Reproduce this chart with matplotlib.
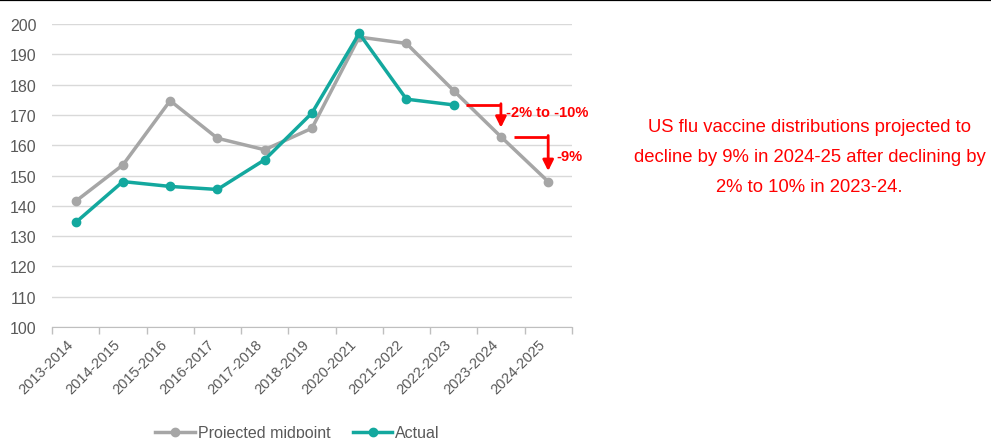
import matplotlib
matplotlib.use("Agg")
import matplotlib.pyplot as plt
from matplotlib.lines import Line2D
import numpy as np

plt.rcParams["font.family"] = ["Liberation Sans", "DejaVu Sans"]

seasons = ["2013-2014", "2014-2015", "2015-2016", "2016-2017", "2017-2018",
           "2018-2019", "2020-2021", "2021-2022", "2022-2023", "2023-2024",
           "2024-2025"]
projected = [141.5, 153.5, 174.7, 162.3, 158.5, 165.6, 195.7, 193.6, 178.0,
             162.8, 148.0]
actual = [134.5, 148.0, 146.4, 145.4, 155.2, 170.6, 196.9, 175.2, 173.3]
y_ticks = [100, 110, 120, 130, 140, 150, 160, 170, 180, 190, 200]

GREY = "#A6A6A6"
TEAL = "#13A89E"
RED = "#FF0000"
TXT = "#595959"

fig = plt.figure(figsize=(9.91, 4.39), dpi=100)
ax = fig.add_axes([0.0525, 0.2528, 0.5245, 0.6902])

x = np.arange(len(seasons))
ax.plot(x, projected, color=GREY, lw=2.5, marker="o", ms=6,
        label="Projected midpoint", clip_on=False, zorder=3)
ax.plot(x[:len(actual)], actual, color=TEAL, lw=2.5, marker="o", ms=6,
        label="Actual", clip_on=False, zorder=4)

ax.set_xlim(-0.5, len(seasons) - 0.5)
ax.set_ylim(100, 200)
ax.set_yticks(y_ticks)
ax.tick_params(axis="y", length=0, pad=11, labelsize=11.5, labelcolor=TXT)
ax.grid(axis="y", color="#D9D9D9", lw=1)
ax.set_axisbelow(True)

ax.set_xticks(x)
ax.set_xticklabels(seasons, rotation=45, ha="right", fontsize=10.5, color=TXT)
ax.tick_params(axis="x", which="major", length=0, pad=7)
ax.set_xticks(np.arange(-0.5, len(seasons)), minor=True)
ax.tick_params(axis="x", which="minor", length=5, color="#BFBFBF", width=1)

for s in ("top", "right", "left"):
    ax.spines[s].set_visible(False)
ax.spines["bottom"].set_color("#BFBFBF")

# red brackets showing the projected declines
def drop_arrow(x0, x1, y0, y1):
    ax.plot([x0, x1], [y0, y0], color=RED, lw=2.0, solid_capstyle="butt",
            zorder=5)
    ax.annotate("", xy=(x1, y1), xytext=(x1, y0 + 0.4),
                arrowprops=dict(arrowstyle="-|>", color=RED, lw=2.0,
                                mutation_scale=16, shrinkA=0, shrinkB=0),
                zorder=5)

drop_arrow(8.27, 9.0, actual[8], projected[9] + 3.0)
drop_arrow(9.28, 10.0, projected[9], projected[10] + 3.5)
ax.text(9.1, 171.0, "-2% to -10%", color=RED, fontsize=10.5,
        fontweight="bold", ha="left", va="center")
ax.text(10.17, 156.4, "-9%", color=RED, fontsize=10.5, fontweight="bold",
        ha="left", va="center")

fig.text(0.817, 0.642,
         "US flu vaccine distributions projected to\n"
         "decline by 9% in 2024-25 after declining by\n"
         "2% to 10% in 2023-24.",
         color=RED, fontsize=13.3, ha="center", va="center", linespacing=2.0)

leg = fig.legend(loc="center", bbox_to_anchor=(0.30, 0.012), ncol=2,
                 frameon=False, fontsize=11.5, handlelength=2.5,
                 columnspacing=1.4, handletextpad=0.15)
for t in leg.get_texts():
    t.set_color(TXT)

fig.add_artist(Line2D([0, 1], [0.998, 0.998], color="black", lw=1.6))

fig.savefig("out.png", dpi=100)
